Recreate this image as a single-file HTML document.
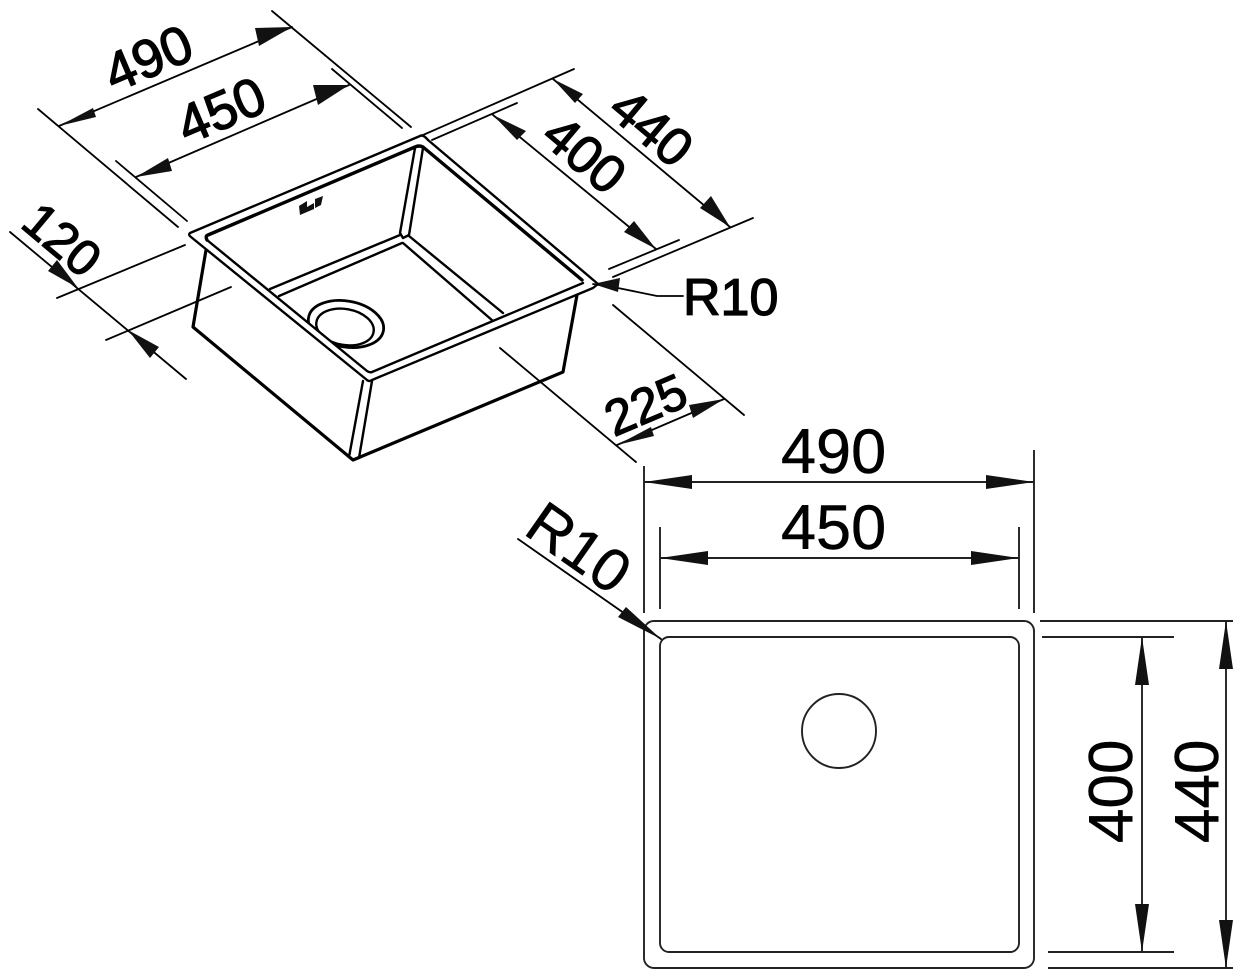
<!DOCTYPE html>
<html><head><meta charset="utf-8"><style>
html,body{margin:0;padding:0;background:#fff}
svg{display:block}
text{font-family:"Liberation Sans",sans-serif;fill:#000;stroke:#000;stroke-width:1.3}
.t{stroke:#000;stroke-width:1.8;fill:none;stroke-linecap:round}
.m{stroke:#000;stroke-width:2.4;fill:none;stroke-linecap:round;stroke-linejoin:round}
.b{stroke:#000;stroke-width:3.2;fill:none;stroke-linecap:round;stroke-linejoin:round}
.g{stroke:#222;stroke-width:1.9;fill:none}
.a{fill:#111;stroke:none}
</style></head><body>
<svg width="1243" height="979" viewBox="0 0 1243 979" xmlns="http://www.w3.org/2000/svg">
<rect width="1243" height="979" fill="#fff"/>
<!-- iso extension lines -->
<path class="t" d="M272 11L411 127M332 69L402 128M38 109L178 227M116 161L187 221M574 69L423 135M517 103L432 140M753 218L613 277M679 240L609 269M185 245L57 298M231 287L106 340M613 305L744 415M500 348L636 462"/>
<!-- iso dimension lines -->
<path class="t" d="M59 126L292 27M136 177L349 85M553 79L730 227M493 115L656 249M10 232L186 379M617 445L724 399M593 284L618 288L657 296L683 296"/>
<!-- iso arrows -->
<path class="a" d="M59 126L93 108L96 117ZM292 27L255 28L259 46ZM136 177L168 158L172 171ZM349 85L313 85L318 105ZM553 79L575 103L583 94ZM730 227L700 208L711 196ZM493 115L517 140L526 131ZM656 249L624 232L634 221ZM78 288L48 271L57 260ZM128 330L159 347L150 358ZM617 445L651 427L654 436ZM724 399L689 405L693 418ZM593 284L620 278L618 292Z"/>
<!-- sink body -->
<path class="b" d="M206 250L193 327L353 460L563 372L577 295"/>
<path class="m" d="M363 381L349 457L353 460L359 458L372 381"/>
<!-- back corner -->
<path class="m" d="M415 148L400 233L403 238L409 235L423 148M400 235L270 289M402 243L279 296M409 236L503 313M403 243L493 321"/>
<!-- drain -->
<ellipse class="m" cx="346" cy="324" rx="38" ry="23" transform="rotate(10 346 324)" style="stroke-width:2.8"/>
<ellipse class="m" cx="345" cy="327" rx="29" ry="18" transform="rotate(10 345 327)"/>
<!-- rim -->
<path d="M191 237L367 380L372 380L593 288L583 283L372 372L367 371L207 240Z" fill="#fff"/>
<path class="m" d="M190 233L420 136Q423 134 428 140L598 284L593 288L372 380Q369 382 367 380L191 237Q188 235 190 233Z"/>
<path class="m" d="M207 240L367 371Q370 373 372 372L583 283"/>
<path class="b" d="M207 240Q205 236 208 235L415 147Q419 145 423 147L582 280" style="stroke-width:3.4"/>
<!-- logo -->
<path class="a" d="M299 206L307 201L307 212L300 215ZM307 207L314 203L314 209L307 212ZM315 199L323 196L321 205L315 208Z"/>
<!-- iso text -->
<text font-size="54" transform="translate(114 93) rotate(-23)">490</text>
<text font-size="54" transform="translate(187 145) rotate(-23)">450</text>
<text font-size="53" transform="translate(606 113) rotate(40)">440</text>
<text font-size="53" transform="translate(539 140) rotate(40)">400</text>
<text font-size="50" transform="translate(19 226) rotate(40)">120</text>
<text font-size="50" transform="translate(614 437) rotate(-23)">225</text>
<text font-size="52" x="683" y="315">R10</text>
<!-- top view -->
<rect class="g" x="644" y="621" width="390" height="347" rx="10"/>
<rect class="g" x="660" y="637" width="359" height="315" rx="9"/>
<circle class="g" cx="839" cy="731" r="37"/>
<path class="g" d="M644 466V613M660 527V609M1034 450V613M1019 527V609M644 482H1034M660 558H1019"/>
<path class="g" d="M1040 621H1233M1042 637H1174M1048 952H1174M1048 968H1233M1142 637V952M1226 621V968"/>
<path class="t" d="M518 539L661 639"/>
<path class="a" d="M644 482L692 475V489ZM1034 482L986 475V489ZM660 558L708 551V565ZM1019 558L971 551V565ZM1142 637L1135 685H1149ZM1142 952L1135 904H1149ZM1226 621L1219 669H1233ZM1226 968L1219 920H1233ZM661 639L618 617L626 607Z"/>
<text font-size="63" x="781" y="473" style="stroke-width:.5">490</text>
<text font-size="63" x="781" y="549" style="stroke-width:.5">450</text>
<text font-size="62" transform="translate(1132 843) rotate(-90)" style="stroke-width:.5">400</text>
<text font-size="62" transform="translate(1218 843) rotate(-90)" style="stroke-width:.5">440</text>
<text font-size="60" transform="translate(522 533) rotate(35)" style="stroke-width:.5">R10</text>
</svg>
</body></html>
